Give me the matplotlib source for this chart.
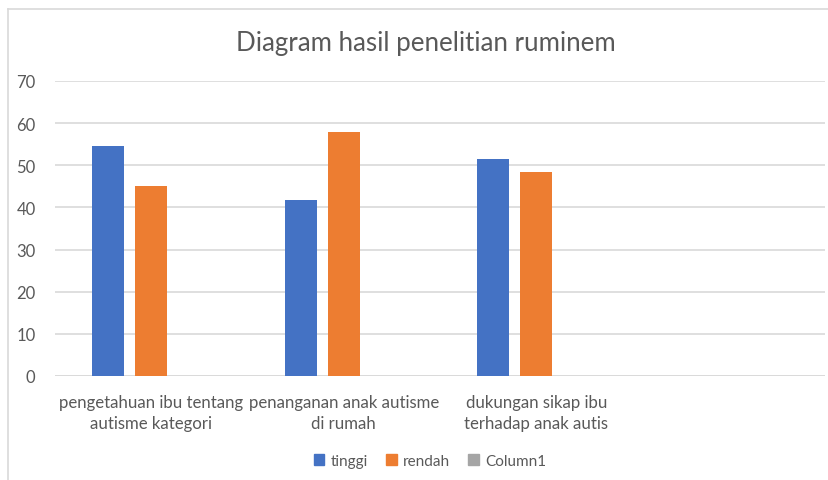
import numpy as np
import matplotlib
matplotlib.use('Agg')
import matplotlib.pyplot as plt
from matplotlib.lines import Line2D
from matplotlib.patches import Patch

# chart data
categories = ['pengetahuan ibu tentang\nautisme kategori',
              'penanganan anak autisme\ndi rumah',
              'dukungan sikap ibu\nterhadap anak autis',
              '']
tinggi = [54.6, 41.7, 51.5, 0]
rendah = [45.2, 57.9, 48.3, 0]
column1 = [0, 0, 0, 0]
series_names = ['tinggi', 'rendah', 'Column1']
colors = ['#4472C4', '#ED7D31', '#A5A5A5']
yticks = [0, 10, 20, 30, 40, 50, 60, 70]

text_col = '#595959'
grid_col = '#D9D9D9'
plt.rcParams['font.family'] = ['Lato', 'DejaVu Sans']

W, H = 829, 481
fig = plt.figure(figsize=(W / 100, H / 100), dpi=100)
ax = fig.add_axes([55 / W, (H - 377) / H, 770 / W, 295 / H])

x = np.arange(len(categories))
bw = 0.166
step = 0.2234
for i, (vals, c) in enumerate(zip([tinggi, rendah, column1], colors)):
    ax.bar(x + (i - 1) * step, vals, width=bw, color=c, zorder=3)

ax.set_xlim(-0.5, len(categories) - 0.5)
ax.set_ylim(0, 70)
ax.set_yticks(yticks)
ax.yaxis.grid(True, color=grid_col, linewidth=1.2, zorder=0)
ax.set_axisbelow(True)
for s in ax.spines.values():
    s.set_visible(False)
ax.axhline(0, color=grid_col, linewidth=1.2, zorder=2)

ax.set_xticks(x)
ax.set_xticklabels(categories, fontsize=12.1, color=text_col, linespacing=1.4)
ax.tick_params(axis='x', length=0, pad=13)
ax.tick_params(axis='y', length=0, pad=14, labelsize=12, labelcolor=text_col)

fig.text(426 / W, 1 - 43 / H, 'Diagram hasil penelitian ruminem',
         ha='center', va='center', fontsize=18.6, color=text_col)

handles = [Patch(color=c, label=n) for c, n in zip(colors, series_names)]
fig.legend(handles=handles, loc='center', bbox_to_anchor=(430 / W, 1 - 462 / H),
           ncol=3, frameon=False, fontsize=11, labelcolor=text_col,
           handlelength=0.7, handleheight=0.7, handletextpad=0.4, columnspacing=1.2)

# chart area border (top and left visible in crop)
fig.add_artist(Line2D([8 / W, 8 / W], [0, 1 - 9.5 / H], color=grid_col, linewidth=1.2))
fig.add_artist(Line2D([8 / W, 1], [1 - 9.5 / H, 1 - 9.5 / H], color=grid_col, linewidth=1.2))

fig.savefig('out.png', dpi=100)
